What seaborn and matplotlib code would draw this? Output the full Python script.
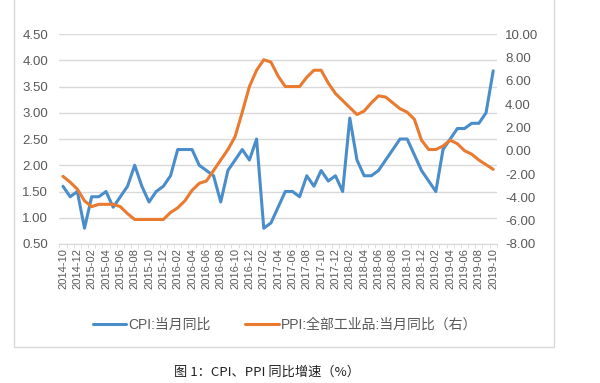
import numpy as np
import pandas as pd
import matplotlib
matplotlib.use("Agg")
import matplotlib.pyplot as plt
import seaborn as sns
from matplotlib.patches import Rectangle

# 月份
months = pd.period_range("2014-10", "2019-10", freq="M").strftime("%Y-%m").tolist()

# CPI:当月同比
cpi = [1.6, 1.4, 1.5,
       0.8, 1.4, 1.4, 1.5, 1.2, 1.4, 1.6, 2.0, 1.6, 1.3, 1.5, 1.6,
       1.8, 2.3, 2.3, 2.3, 2.0, 1.9, 1.8, 1.3, 1.9, 2.1, 2.3, 2.1,
       2.5, 0.8, 0.9, 1.2, 1.5, 1.5, 1.4, 1.8, 1.6, 1.9, 1.7, 1.8,
       1.5, 2.9, 2.1, 1.8, 1.8, 1.9, 2.1, 2.3, 2.5, 2.5, 2.2, 1.9,
       1.7, 1.5, 2.3, 2.5, 2.7, 2.7, 2.8, 2.8, 3.0, 3.8]

# PPI:全部工业品:当月同比
ppi = [-2.2, -2.7, -3.3,
       -4.3, -4.8, -4.6, -4.6, -4.6, -4.8, -5.4, -5.9, -5.9, -5.9, -5.9, -5.9,
       -5.3, -4.9, -4.3, -3.4, -2.8, -2.6, -1.7, -0.8, 0.1, 1.2, 3.3, 5.5,
       6.9, 7.8, 7.6, 6.4, 5.5, 5.5, 5.5, 6.3, 6.9, 6.9, 5.8, 4.9,
       4.3, 3.7, 3.1, 3.4, 4.1, 4.7, 4.6, 4.1, 3.6, 3.3, 2.7, 0.9,
       0.1, 0.1, 0.4, 0.9, 0.6, 0.0, -0.3, -0.8, -1.2, -1.6]

df = pd.DataFrame({"月份": months, "CPI": cpi, "PPI": ppi})
df["x"] = np.arange(len(df))

sns.set_style("white")
plt.rcParams['font.family'] = ['Liberation Sans', 'Noto Sans CJK SC', 'DejaVu Sans']

blue = "#4A8DCB"
orange = "#E97A30"
grey = "#595959"
gridc = "#D9D9D9"

fig = plt.figure(figsize=(6, 3.83), dpi=100)
ax = fig.add_axes([0.099, 0.363, 0.729, 0.548])
ax2 = ax.twinx()

# 两条折线
sns.lineplot(data=df, x="x", y="CPI", ax=ax, color=blue, linewidth=2.2, label="CPI:当月同比", legend=False)
sns.lineplot(data=df, x="x", y="PPI", ax=ax2, color=orange, linewidth=2.2, label="PPI:全部工业品:当月同比（右）", legend=False)

ax.set_xlim(-0.5, len(df) - 0.5)
ax.set_ylim(0.5, 4.5)
ax2.set_ylim(-8, 10)
ax.set_yticks(np.arange(0.5, 4.51, 0.5))
ax.set_yticklabels([f"{v:.2f}" for v in np.arange(0.5, 4.51, 0.5)])
ax2.set_yticks(np.arange(-8, 10.1, 2))
ax2.set_yticklabels([f"{v:.2f}" for v in np.arange(-8, 10.1, 2)])

ax.set_xticks(df["x"][::2])
ax.set_xticklabels(df["月份"][::2], rotation=90)
ax.set_xticks(np.arange(-0.5, len(df), 1), minor=True)
ax.grid(axis="y", color=gridc, linewidth=1)
ax.set_axisbelow(True)
ax.set_xlabel("")
ax.set_ylabel("")
ax2.set_ylabel("")

for a in (ax, ax2):
    for s in a.spines.values():
        s.set_visible(False)
ax.spines["bottom"].set_visible(True)
ax.spines["bottom"].set_color(gridc)
ax.tick_params(axis="x", which="major", length=0, labelsize=8, colors=grey, pad=3)
ax.tick_params(axis="x", which="minor", length=3, color=gridc, bottom=True)
ax.tick_params(axis="y", length=0, labelsize=9.5, colors=grey, pad=8)
ax2.tick_params(axis="y", length=0, labelsize=9.5, colors=grey, pad=6)

h1, l1 = ax.get_legend_handles_labels()
h2, l2 = ax2.get_legend_handles_labels()
fig.legend(h1 + h2, l1 + l2, loc="center", bbox_to_anchor=(0.475, 0.152), ncol=2,
           frameon=False, fontsize=10, handlelength=2.4, handletextpad=0.15,
           columnspacing=2.5, labelcolor=grey)

# 外框
fig.patches.append(Rectangle((14 / 600, 1 - 347 / 383), 540 / 600, 350 / 383,
                             transform=fig.transFigure, fill=False,
                             edgecolor=gridc, linewidth=1))

fig.text(0.445, 1 - 372 / 383, "图 1：CPI、PPI 同比增速（%）", ha="center", va="center",
         fontsize=9.5, color="#222222", family=['Noto Sans CJK SC', 'DejaVu Sans'])

fig.savefig("out.png", dpi=100)
